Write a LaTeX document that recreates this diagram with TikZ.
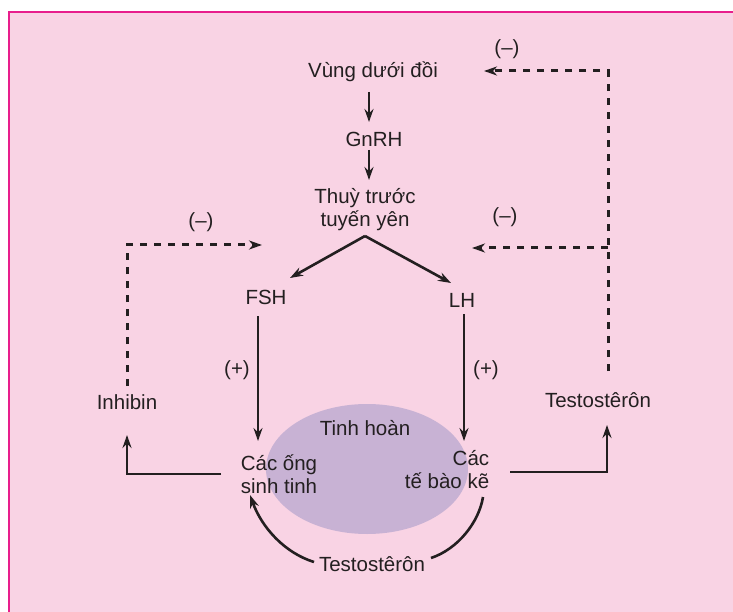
\documentclass[tikz,border=0pt]{standalone}
\usepackage{fontspec}
\setmainfont{Liberation Sans}
\usetikzlibrary{shapes.geometric, arrows.meta, positioning, calc}
\definecolor{bgpink}{RGB}{249,211,228}
\definecolor{framemagenta}{RGB}{232,30,140}
\definecolor{testispurple}{RGB}{200,178,212}
\definecolor{inkgray}{RGB}{35,31,32}

\begin{document}
\begin{tikzpicture}[
    x=1pt, y=-1pt,
    lbl/.style={font=\fontsize{20.5}{23}\selectfont, text=inkgray, inner sep=1pt, align=center},
    sign/.style={font=\fontsize{20.5}{23}\selectfont, text=inkgray, inner sep=1pt},
    arr/.style={-{Stealth[length=13pt, width=9pt]}, line width=2.6pt, draw=inkgray},
    fb/.style={-{Stealth[length=13pt, width=9pt, inset=4pt]}, line width=3pt, draw=inkgray, dash pattern=on 7pt off 7pt},
    curve/.style={line width=2.6pt, draw=inkgray},
]
% page and frame
\useasboundingbox (0,0) rectangle (733,612);
\fill[bgpink] (9,12) rectangle (733,612);
\draw[framemagenta, line width=1.5pt] (733,12) -- (9,12) -- (9,612);

% testis
\node[ellipse, fill=testispurple, minimum width=202pt, minimum height=130pt, inner sep=0pt] (testis) at (367,469) {};

% labels
\node[lbl] (hypo) at (373,72) {Vùng dưới đồi};
\node[lbl] (gnrh) at (374,139) {GnRH};
\node[lbl] (pit) at (365,210) {Thuỳ trước\\tuyến yên};
\node[lbl] (fsh) at (266,297) {FSH};
\node[lbl] (lh) at (462,300) {LH};
\node[lbl] (tinh) at (365,428) {Tinh hoàn};
\node[lbl, align=left] (tubules) at (279,474) {Các ống\\sinh tinh};
\node[lbl, align=right] (leydig) at (447,470) {Các\\tế bào kẽ};
\node[lbl] (inhibin) at (127,402) {Inhibin};
\node[lbl] (testoR) at (598,400) {Testostêrôn};
\node[lbl] (testoB) at (372,564) {Testostêrôn};

% signs
\node[sign] (negtop) at (507,49) {(–)};
\node[sign] (negmid) at (505,217) {(–)};
\node[sign] (negleft) at (201,222) {(–)};
\node[sign] (posleft) at (237,370) {(+)};
\node[sign] (posright) at (486,370) {(+)};

% main axis
\draw[arr] ($(hypo)+(-4,20)$) -- ($(gnrh)+(-5,-17)$);
\draw[arr] ($(gnrh)+(-5,11)$) -- ($(pit)+(4,-30)$);
\draw[arr] ($(pit)+(0,26)$) -- ($(fsh)+(24,-19)$);
\draw[arr] ($(pit)+(0,26)$) -- ($(lh)+(-11,-17)$);
\draw[arr] ($(fsh)+(-8,19)$) -- ($(tubules)+(-21,-33)$);
\draw[arr] ($(lh)+(2,14)$) -- ($(leydig)+(17,-29)$);

% outputs of the testis
\draw[arr] ($(tubules)+(-58,0)$) -| ($(inhibin)+(0,33)$);
\draw[arr] ($(leydig)+(63,2)$) -| ($(testoR)+(9,25)$);
\draw[curve] ($(leydig)+(36,27)$) .. controls (479,522) and (458,549) .. ($(testoB)+(59,-6)$);
\draw[curve, -{Stealth[length=13pt, width=9pt]}] ($(testoB)+(-58,-2)$) .. controls (285,553) and (262,528) .. ($(tubules)+(-29,21)$);

% negative feedback
\coordinate (branch) at ($(testoR)+(10,-152)$);
\draw[fb] ($(testoR)+(10,-29)$) |- ($(hypo)+(111,-1)$);
\draw[fb] (branch) -- ($(pit)+(107,38)$);
\draw[fb] ($(inhibin)+(0,-16)$) |- ($(pit)+(-103,35)$);
\end{tikzpicture}
\end{document}
